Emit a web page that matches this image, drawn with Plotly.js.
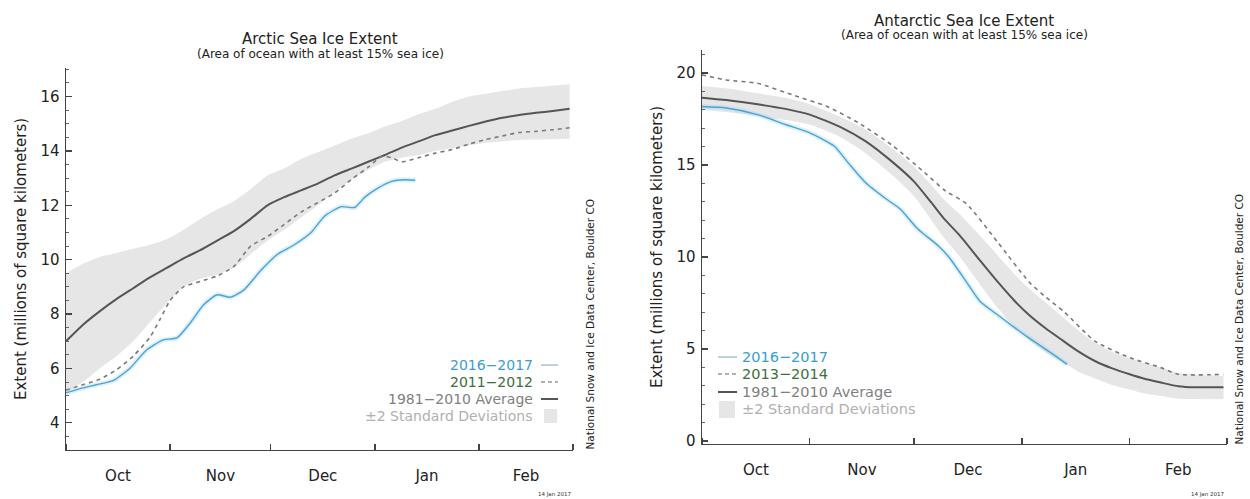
<!DOCTYPE html>
<html>
<head>
<meta charset="utf-8">
<script src="https://cdn.plot.ly/plotly-3.0.1.min.js"></script>
<style>html,body{margin:0;padding:0;background:#fff;}#chart{width:1250px;height:499px;}</style>
</head>
<body>
<div id="chart"></div>
<script>
// ---------------- Arctic (left) ----------------
const arcticDates = ['2016-10-01','2016-10-06','2016-10-11','2016-10-16','2016-10-21','2016-10-26','2016-10-31','2016-11-05','2016-11-10','2016-11-15','2016-11-20','2016-11-25','2016-11-30','2016-12-05','2016-12-10','2016-12-15','2016-12-20','2016-12-25','2016-12-30','2017-01-04','2017-01-09','2017-01-14','2017-01-19','2017-01-24','2017-01-29','2017-02-03','2017-02-08','2017-02-13','2017-02-18','2017-02-23','2017-02-28'];
const arcticAvg   = [7.0,7.6,8.1,8.55,8.95,9.35,9.7,10.05,10.35,10.7,11.05,11.5,12.0,12.3,12.55,12.8,13.1,13.35,13.6,13.85,14.12,14.35,14.58,14.75,14.92,15.08,15.22,15.32,15.4,15.47,15.55];
const arcticUpper = [9.5,9.85,10.1,10.25,10.4,10.55,10.75,11.1,11.5,11.85,12.15,12.6,13.1,13.35,13.7,13.95,14.2,14.45,14.65,14.9,15.1,15.35,15.55,15.8,16.0,16.1,16.2,16.3,16.35,16.4,16.45];
const arcticLower = [5.1,5.5,6.0,6.45,7.0,7.7,8.4,9.0,9.3,9.45,9.7,10.2,10.7,11.1,11.55,12.0,12.5,12.95,13.3,13.6,13.75,13.85,14.0,14.1,14.2,14.3,14.35,14.4,14.42,14.43,14.45];

const arctic1112Dates = ['2016-10-01','2016-10-06','2016-10-11','2016-10-16','2016-10-21','2016-10-26','2016-10-29','2016-11-01','2016-11-05','2016-11-10','2016-11-15','2016-11-20','2016-11-25','2016-11-30','2016-12-05','2016-12-10','2016-12-15','2016-12-20','2016-12-25','2016-12-30','2017-01-03','2017-01-06','2017-01-09','2017-01-14','2017-01-19','2017-01-24','2017-01-29','2017-02-03','2017-02-08','2017-02-13','2017-02-18','2017-02-23','2017-02-28'];
const arctic1112 = [5.2,5.4,5.6,5.95,6.45,7.15,7.8,8.5,9.0,9.2,9.4,9.75,10.5,10.85,11.3,11.75,12.1,12.45,12.95,13.4,13.8,13.75,13.6,13.75,13.92,14.05,14.25,14.42,14.55,14.68,14.72,14.78,14.85];

const arctic1617Dates = ['2016-10-01','2016-10-05','2016-10-10','2016-10-15','2016-10-20','2016-10-25','2016-10-30','2016-11-03','2016-11-07','2016-11-11','2016-11-15','2016-11-19','2016-11-23','2016-11-28','2016-12-03','2016-12-08','2016-12-13','2016-12-17','2016-12-22','2016-12-26','2016-12-29','2017-01-02','2017-01-06','2017-01-10','2017-01-13'];
const arctic1617 = [5.1,5.25,5.4,5.55,6.0,6.68,7.05,7.12,7.67,8.34,8.71,8.62,8.89,9.6,10.2,10.55,11.0,11.6,11.95,11.92,12.3,12.64,12.88,12.94,12.92];

// ---------------- Antarctic (right) ----------------
const antDates = ['2016-10-01','2016-10-09','2016-10-17','2016-10-25','2016-11-01','2016-11-10','2016-11-17','2016-11-25','2016-12-01','2016-12-06','2016-12-10','2016-12-14','2016-12-20','2016-12-25','2016-12-30','2017-01-03','2017-01-08','2017-01-13','2017-01-17','2017-01-22','2017-01-27','2017-02-01','2017-02-05','2017-02-10','2017-02-15','2017-02-20','2017-02-28'];
const antAvg   = [18.65,18.5,18.3,18.05,17.74,17.05,16.3,15.13,14.1,12.95,12.0,11.2,9.8,8.66,7.6,6.86,6.1,5.43,4.9,4.35,3.95,3.63,3.4,3.18,2.98,2.92,2.93];
const antUpper = [19.3,19.15,18.9,18.65,18.3,17.6,16.95,15.85,14.9,13.9,13.05,12.35,11.15,10.1,9.05,8.3,7.5,6.7,6.05,5.35,4.85,4.5,4.25,4.0,3.7,3.6,3.55];
const antLower = [18.0,17.85,17.65,17.45,17.2,16.5,15.65,14.4,13.3,12.0,10.95,10.05,8.5,7.25,6.2,5.5,4.8,4.25,3.8,3.4,3.05,2.8,2.6,2.45,2.3,2.28,2.28];

const ant1314Dates = ['2016-10-01','2016-10-08','2016-10-17','2016-10-27','2016-11-06','2016-11-15','2016-11-25','2016-12-04','2016-12-10','2016-12-16','2016-12-25','2017-01-03','2017-01-08','2017-01-13','2017-01-22','2017-02-01','2017-02-10','2017-02-15','2017-02-28'];
const ant1314 = [19.9,19.62,19.44,18.81,18.18,17.29,16.03,14.59,13.6,12.9,10.82,8.66,7.8,7.05,5.43,4.53,3.99,3.63,3.62];

const ant1617Dates = ['2016-10-01','2016-10-08','2016-10-17','2016-10-25','2016-11-01','2016-11-08','2016-11-12','2016-11-17','2016-11-23','2016-11-27','2016-12-02','2016-12-08','2016-12-11','2016-12-16','2016-12-20','2016-12-25','2016-12-30','2017-01-03','2017-01-10','2017-01-14'];
const ant1617 = [18.18,18.1,17.74,17.2,16.75,16.03,15.13,14.05,13.15,12.61,11.54,10.6,10.0,8.66,7.58,6.86,6.15,5.61,4.71,4.17];

// ---------------- text ----------------
const monthTickStart = '2016-10-01';
const xRange = ['2016-10-01','2017-03-01'];
const arcticTitle = 'Arctic Sea Ice Extent';
const antTitle = 'Antarctic Sea Ice Extent';
const subTitle = '(Area of ocean with at least 15% sea ice)';
const yTitle = 'Extent (millions of square kilometers)';
const credit = 'National Snow and Ice Data Center, Boulder CO';
const stamp = '14 Jan 2017';
const arcticLegend = ['2016\u22122017','2011\u22122012','1981\u22122010 Average','\u00b12 Standard Deviations'];
const antLegend = ['2016\u22122017','2013\u22122014','1981\u22122010 Average','\u00b12 Standard Deviations'];

// ---------------- styling / layout ----------------
const W = 1250, H = 499;
const px = x => x / W;
const py = y => 1 - y / H;
const FONT = 'DejaVu Sans, Liberation Sans, sans-serif';
const C = {shade:'#e6e6e6', avg:'#555555', dash:'#7a7a7a', blue:'#4aa3d4', halo:'rgba(160,215,240,0.35)',
  tBlue:'#3b9dd0', tGreen:'#3d6e3d', tGrey:'#808080', tLight:'#b0b0b0'};

function bandTraces(xs, lo, hi, xa, ya) {
  return [
    {x: xs, y: lo, mode:'lines', line:{color:'rgba(0,0,0,0)', width:0, shape:'spline', smoothing:0.6}, xaxis:xa, yaxis:ya, hoverinfo:'skip', showlegend:false},
    {x: xs, y: hi, mode:'lines', fill:'tonexty', fillcolor:C.shade, line:{color:'rgba(0,0,0,0)', width:0, shape:'spline', smoothing:0.6}, xaxis:xa, yaxis:ya, hoverinfo:'skip', showlegend:false}
  ];
}
function lineTrace(xs, ys, xa, ya, color, width, dash) {
  return {x: xs, y: ys, mode:'lines', line:{color:color, width:width, dash:dash||'solid', shape:'spline', smoothing:0.6}, xaxis:xa, yaxis:ya, hoverinfo:'skip', showlegend:false};
}

const data = [].concat(
  bandTraces(arcticDates, arcticLower, arcticUpper, 'x', 'y'),
  [lineTrace(arcticDates, arcticAvg, 'x', 'y', C.avg, 2),
   lineTrace(arctic1112Dates, arctic1112, 'x', 'y', C.dash, 1.6, '4px,4px'),
   lineTrace(arctic1617Dates, arctic1617, 'x', 'y', C.halo, 5),
   lineTrace(arctic1617Dates, arctic1617, 'x', 'y', C.blue, 1.4)],
  bandTraces(antDates, antLower, antUpper, 'x2', 'y2'),
  [lineTrace(antDates, antAvg, 'x2', 'y2', C.avg, 2),
   lineTrace(ant1314Dates, ant1314, 'x2', 'y2', C.dash, 1.6, '4px,4px'),
   lineTrace(ant1617Dates, ant1617, 'x2', 'y2', C.halo, 5),
   lineTrace(ant1617Dates, ant1617, 'x2', 'y2', C.blue, 1.4)]
);

function xAxis(domain, anchor) {
  return {domain: domain, anchor: anchor, type:'date', range: xRange, tick0: monthTickStart, dtick:'M1',
    tickformat:'%b', ticklabelmode:'period', ticks:'inside', ticklen:6, tickwidth:1.3, tickcolor:'#444',
    showline:true, linecolor:'#444', linewidth:1.4, showgrid:false, zeroline:false,
    tickfont:{family:FONT, size:15, color:'#222'}, ticklabelstandoff:12, fixedrange:true};
}
function yAxis(domain, anchor, range, dtick, minor) {
  return {domain: domain, anchor: anchor, range: range, dtick: dtick, tick0:0, ticks:'inside', ticklen:6, tickwidth:1.3, tickcolor:'#444',
    minor:{dtick:minor, ticks:'inside', ticklen:3, tickcolor:'#666', tickwidth:1},
    showline:true, linecolor:'#444', linewidth:1.4, showgrid:false, zeroline:false,
    tickfont:{family:FONT, size:15, color:'#222'}, ticklabelstandoff:2,
    title:{text:yTitle, font:{family:FONT, size:15, color:'#222'}, standoff:10}, fixedrange:true};
}

const ann = [];
const shapes = [];
function txt(text, x, y, size, color, xanchor, yanchor, angle) {
  ann.push({text:text, x:px(x), y:py(y), xref:'paper', yref:'paper', showarrow:false,
    xanchor:xanchor||'center', yanchor:yanchor||'middle', textangle:angle||0,
    font:{family:FONT, size:size, color:color}});
}
// titles
txt(arcticTitle, 320, 39, 15, '#222');
txt(subTitle, 320, 54, 12, '#222');
txt(antTitle, 964, 21, 15, '#222');
txt(subTitle, 964, 35, 12, '#222');
// credits
txt(credit, 589, 452, 10.5, '#222', 'center', 'bottom', -90);
txt(credit, 1238, 447, 10.5, '#222', 'center', 'bottom', -90);
txt(stamp, 573, 494, 5.5, '#333', 'right');
txt(stamp, 1226, 494, 5.5, '#333', 'right');

// Arctic legend (text left of symbols)
const aRows = [365, 382, 399, 416];
const legColors = [C.tBlue, C.tGreen, C.tGrey, C.tLight];
arcticLegend.forEach((t,i) => txt(t, 535, aRows[i], 14, legColors[i], 'right'));
function hline(x0, x1, y, color, width, dash) {
  shapes.push({type:'line', xref:'paper', yref:'paper', x0:px(x0), x1:px(x1), y0:py(y), y1:py(y), line:{color:color, width:width, dash:dash||'solid'}});
}
function rect(x0, x1, y0, y1, color) {
  shapes.push({type:'rect', xref:'paper', yref:'paper', x0:px(x0), x1:px(x1), y0:py(y1), y1:py(y0), line:{width:0}, fillcolor:color});
}
hline(541, 558, aRows[0], '#9fb8c8', 1.3);
hline(541, 558, aRows[1], '#999999', 1.4, '4px,3px');
hline(541, 558, aRows[2], C.avg, 2);
rect(544, 557, 409, 423, C.shade);

// Antarctic legend (symbols left of text)
const bRows = [357, 374, 392, 409];
antLegend.forEach((t,i) => txt(t, 740, bRows[i], 14.5, legColors[i], 'left'));
hline(718, 737, bRows[0], '#9fb8c8', 1.3);
hline(718, 737, bRows[1], '#999999', 1.4, '4px,3px');
hline(718, 737, bRows[2], C.avg, 2);
rect(719, 735, 401, 418, C.shade);

const layout = {
  width: W, height: H, margin:{l:0, r:0, t:0, b:0}, paper_bgcolor:'#fff', plot_bgcolor:'#fff', showlegend:false,
  font:{family:FONT},
  xaxis: xAxis([px(66), px(573)], 'y'),
  yaxis: yAxis([py(450), py(68)], 'x', [3, 17.05], 2, 0.5),
  xaxis2: xAxis([px(702), px(1227)], 'y2'),
  yaxis2: yAxis([py(444), py(50)], 'x2', [-0.16, 21.25], 5, 1),
  annotations: ann, shapes: shapes
};
Plotly.newPlot('chart', data, layout, {staticPlot:true, displayModeBar:false});
</script>
</body>
</html>
